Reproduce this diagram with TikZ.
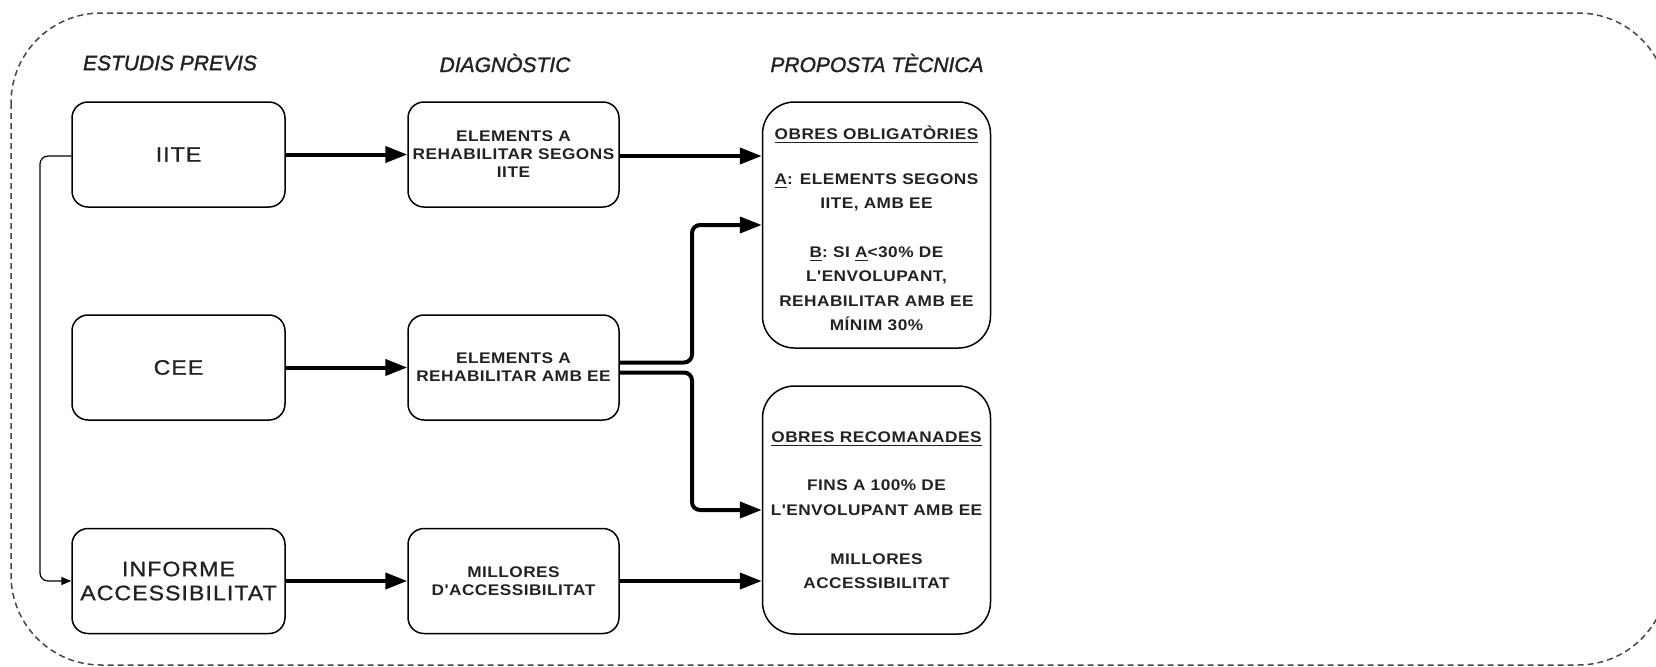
\documentclass[tikz,border=0pt]{standalone}
\usepackage{fontspec}
\setmainfont{Liberation Sans}[Ligatures=TeXOff]
\usetikzlibrary{arrows.meta}
\definecolor{txt}{HTML}{222222}
\tikzset{
  box/.style={draw, line width=0.75pt, rounded corners=8pt, align=center, inner sep=0pt, text=txt},
  bigbox/.style={box, minimum width=106.5pt, minimum height=52.5pt, font=\fontsize{10.5}{12}\selectfont\addfontfeature{FakeStretch=1.1,LetterSpace=5,FakeBold=1}},
  midbox/.style={box, minimum width=105.5pt, minimum height=52.5pt, font=\bfseries\fontsize{7.7}{9}\selectfont\addfontfeature{FakeStretch=1.12,LetterSpace=3}},
  tallbox/.style={box, rounded corners=16pt, minimum width=114pt, font=\bfseries\fontsize{7.7}{12.2}\selectfont\addfontfeature{FakeStretch=1.12,LetterSpace=3}},
  header/.style={text=txt, font=\itshape\fontsize{10.5}{13}\selectfont\addfontfeature{FakeBold=1.5}},
  thick arrow/.style={line width=2pt, rounded corners=4pt, -{Triangle[length=11pt,width=8pt]}},
  thin arrow/.style={line width=0.6pt, rounded corners=4pt, -{Triangle[length=5pt,width=4pt]}},
  outline/.style={draw=black!72, line width=0.75pt, dash pattern=on 3pt off 2pt, rounded corners=45pt}
}
\begin{document}
\begin{tikzpicture}[x=0.5pt,y=-0.5pt]
\useasboundingbox (0,0) rectangle (1656,666);
\draw[outline] (11,13) rectangle (1668,665);

\node[header] (h1) at (170,63) {ESTUDIS PREVIS};
\node[header] (h2) at (505,63) {DIAGNÒSTIC};
\node[header] (h3) at (877,63) {PROPOSTA TÈCNICA};

\node[bigbox] (iite) at (178.5,154.5) {IITE};
\node[bigbox] (cee) at (178.5,367.5) {CEE};
\node[bigbox] (inf) at (178.5,581) {INFORME\\ACCESSIBILITAT};

\node[midbox] (seg) at (513.5,154.5) {ELEMENTS A\\REHABILITAR SEGONS\\IITE};
\node[midbox] (ee) at (513.5,367.5) {ELEMENTS A\\REHABILITAR AMB EE};
\node[midbox] (mil) at (513.5,581) {MILLORES\\D'ACCESSIBILITAT};

\node[tallbox, minimum height=123pt] (obl) at (876.5,225) {\rule{0pt}{10pt}\underline{OBRES OBLIGATÒRIES}\\[10.2pt]\underline{A}: ELEMENTS SEGONS\\IITE, AMB EE\\[12.2pt]\underline{B}:\ SI \underline{A}<30\% DE\\L'ENVOLUPANT,\\REHABILITAR AMB EE\\MÍNIM 30\%};
\node[tallbox, minimum height=124pt] (rec) at (876.5,510) {\underline{OBRES RECOMANADES}\\[12.2pt]FINS A 100\% DE\\L'ENVOLUPANT AMB EE\\[12.2pt]MILLORES\\ACCESSIBILITAT};

\coordinate (j) at (692,0);
\draw[thick arrow] (iite.east) -- (seg.west);
\draw[thick arrow] ([yshift=-0.75pt]seg.east) -- ([yshift=-0.75pt]seg.east -| obl.west);
\draw[thick arrow] (cee.east) -- (ee.west);
\draw[thick arrow] ([yshift=2.5pt]ee.east) -- ([yshift=2.5pt]ee.east -| j) -- (j |- obl.west) -- (obl.west);
\draw[thick arrow] ([yshift=-2.5pt]ee.east) -- ([yshift=-2.5pt]ee.east -| j) -- (j |- rec.west) -- (rec.west);
\draw[thick arrow] (inf.east) -- (mil.west);
\draw[thick arrow] (mil.east) -- (mil.east -| rec.west);
\coordinate (l) at (40,0);
\draw[thin arrow] ([yshift=-0.75pt]iite.west) -- ([yshift=-0.75pt]iite.west -| l) -- (l |- inf.west) -- (inf.west);
\end{tikzpicture}
\end{document}
